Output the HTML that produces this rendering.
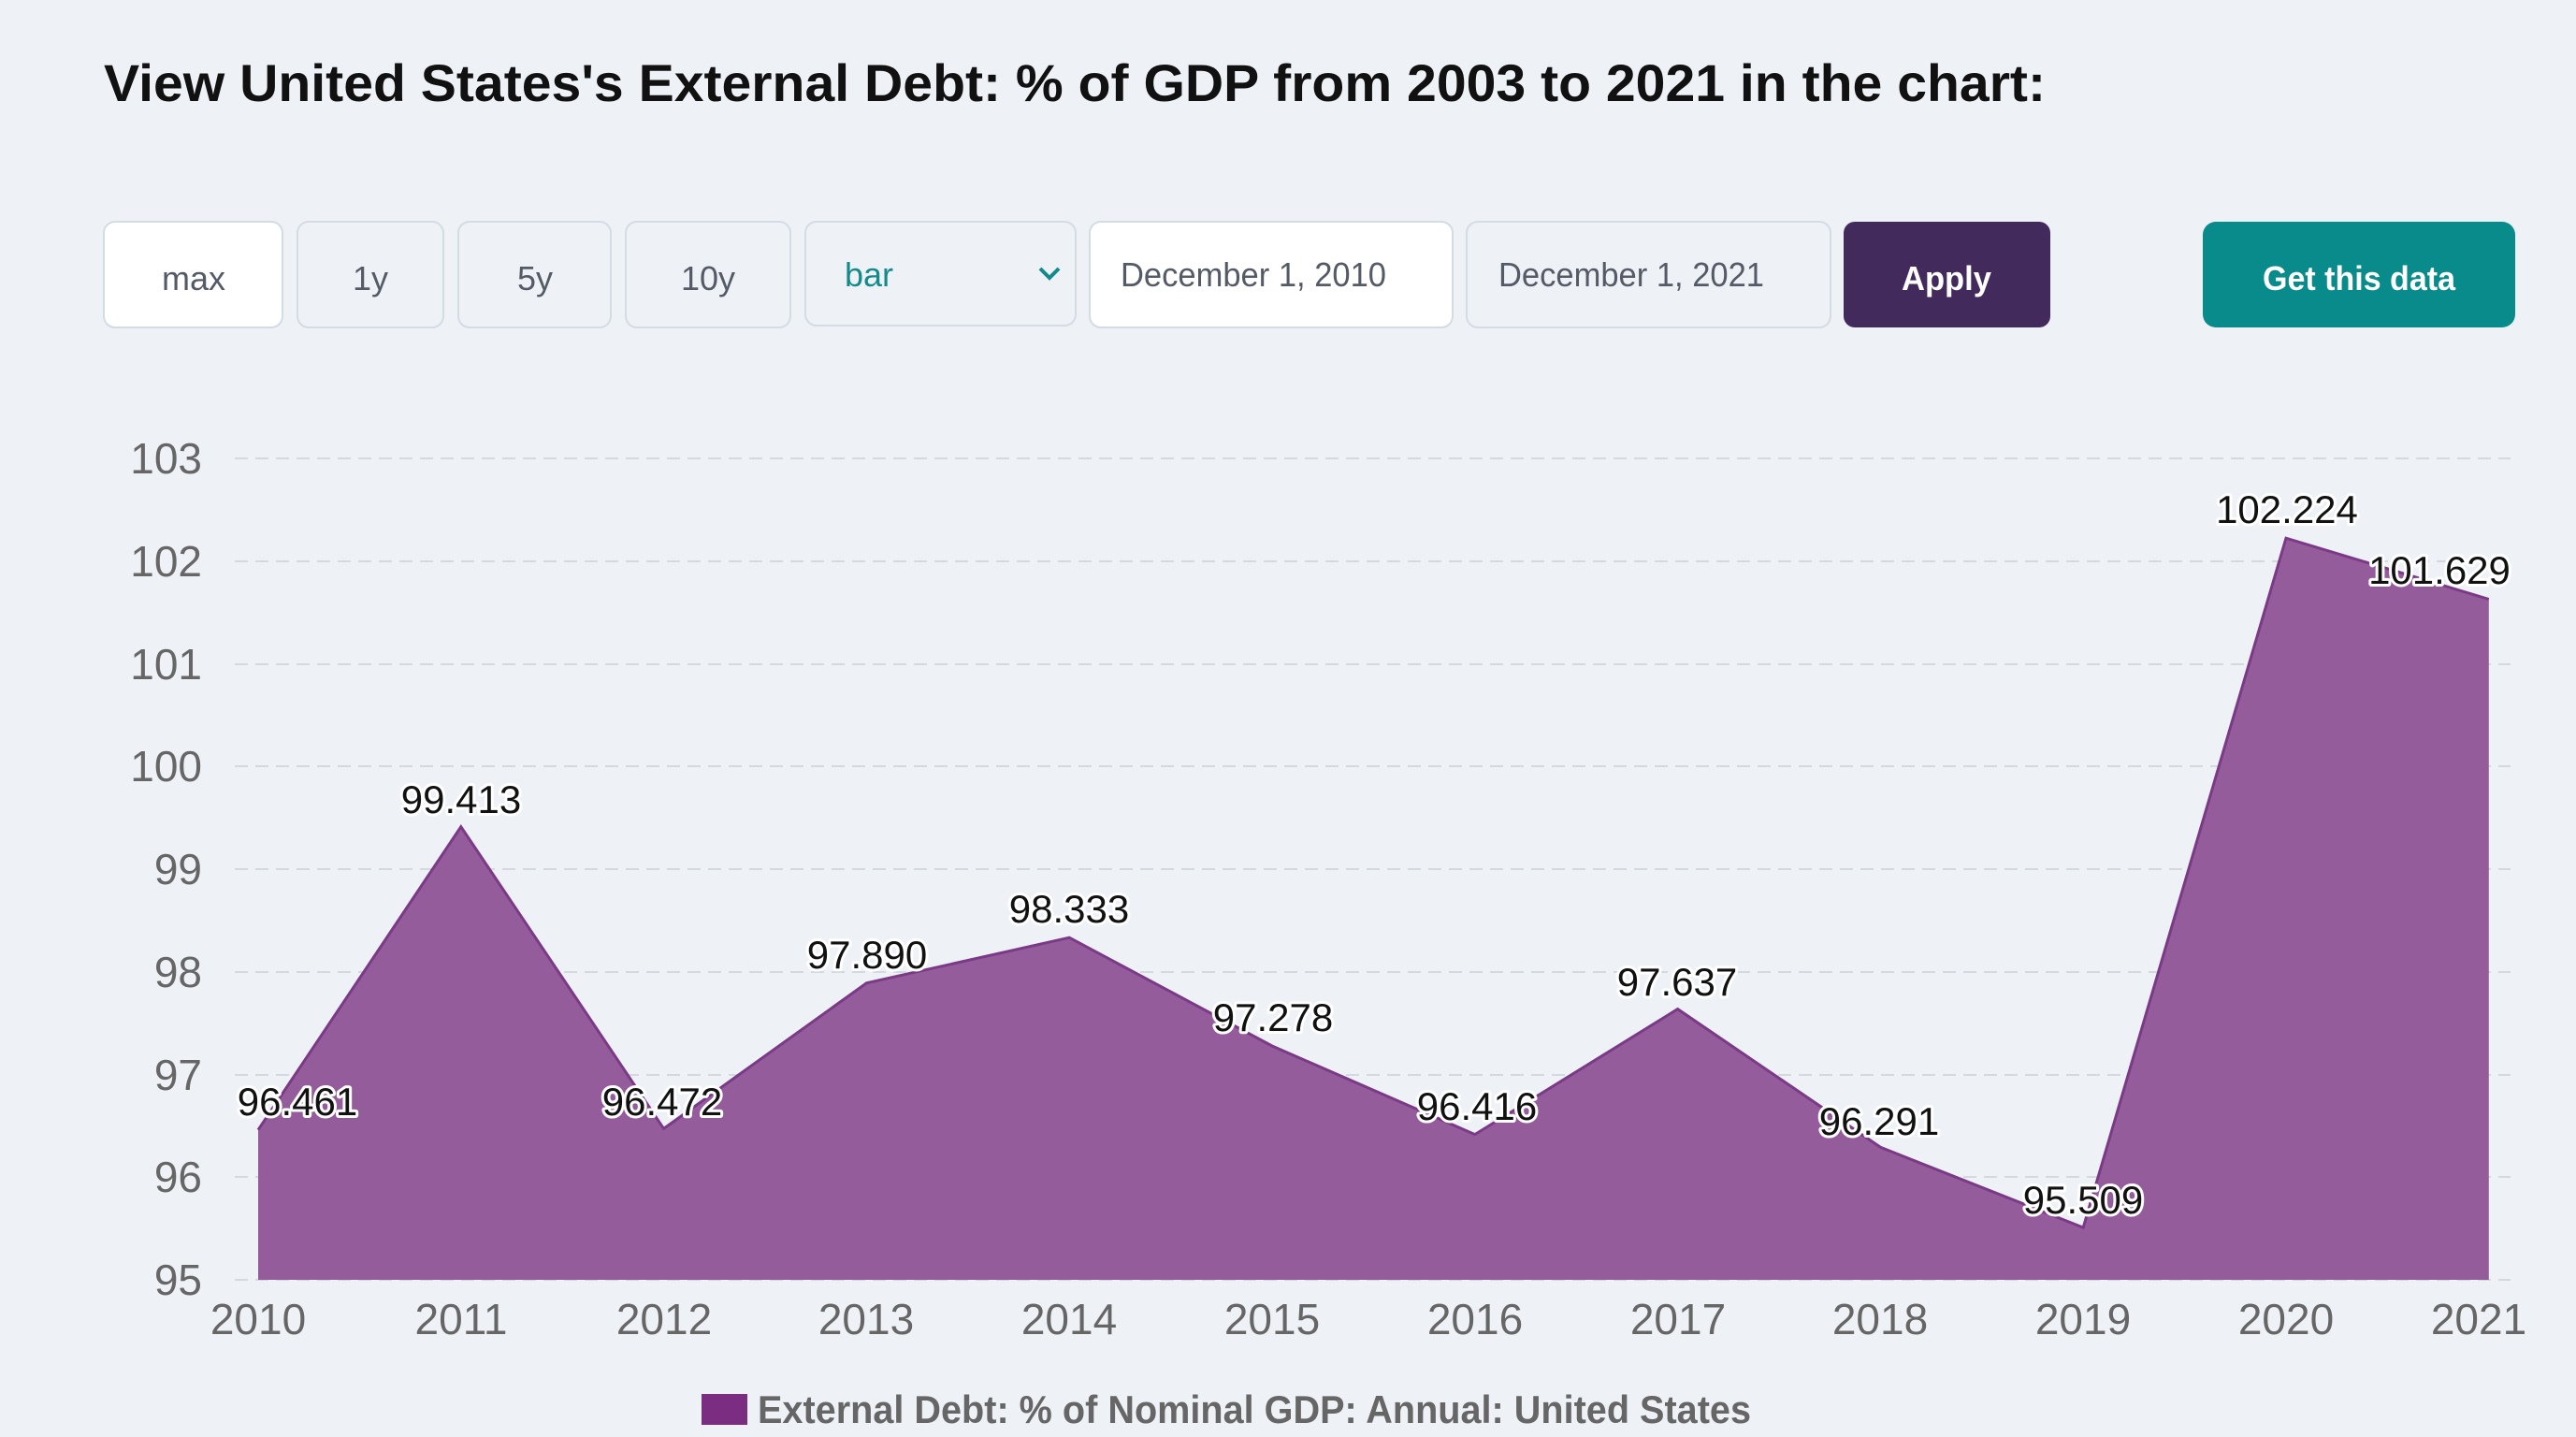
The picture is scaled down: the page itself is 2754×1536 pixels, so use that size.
<!DOCTYPE html>
<html><head><meta charset="utf-8"><style>
html,body{margin:0;padding:0;background:#eef2f7;}
svg{display:block;font-family:"Liberation Sans",sans-serif;}
</style></head><body>
<svg width="2754" height="1536" viewBox="0 0 2754 1536" xmlns="http://www.w3.org/2000/svg">
<rect width="2754" height="1536" fill="#eef2f7"/>
<text x="111" y="108" font-size="56" font-weight="bold" fill="#111" textLength="2076" lengthAdjust="spacingAndGlyphs">View United States's External Debt: % of GDP from 2003 to 2021 in the chart:</text>
<g font-size="36" text-anchor="middle" fill="#555b66">
<rect x="111" y="237" width="191" height="113" rx="12" fill="#fff" stroke="#d3dbe3" stroke-width="2"/>
<text x="207" y="310">max</text>
<rect x="318" y="237" width="156" height="113" rx="12" fill="#eef2f7" stroke="#d3dbe3" stroke-width="2"/>
<text x="396" y="310">1y</text>
<rect x="490" y="237" width="163" height="113" rx="12" fill="#eef2f7" stroke="#d3dbe3" stroke-width="2"/>
<text x="572" y="310">5y</text>
<rect x="669" y="237" width="176" height="113" rx="12" fill="#eef2f7" stroke="#d3dbe3" stroke-width="2"/>
<text x="757" y="310">10y</text>
<rect x="861" y="237" width="289" height="111" rx="12" fill="#eef2f7" stroke="#d3dbe3" stroke-width="2"/>
<text x="929" y="306" fill="#148a8a">bar</text>
<path d="M1112 287 l10 10 l10 -10" fill="none" stroke="#148a8a" stroke-width="4"/>
<rect x="1165" y="237" width="388" height="113" rx="12" fill="#fff" stroke="#d3dbe3" stroke-width="2"/>
<text x="1340" y="306" textLength="284" lengthAdjust="spacingAndGlyphs">December 1, 2010</text>
<rect x="1568" y="237" width="389" height="113" rx="12" fill="#eef2f7" stroke="#d3dbe3" stroke-width="2"/>
<text x="1744" y="306" textLength="284" lengthAdjust="spacingAndGlyphs">December 1, 2021</text>
<rect x="1971" y="237" width="221" height="113" rx="12" fill="#432a5c"/>
<text x="2081" y="310" fill="#fff" font-weight="bold" textLength="96" lengthAdjust="spacingAndGlyphs">Apply</text>
<rect x="2355" y="237" width="334" height="113" rx="14" fill="#088b8a"/>
<text x="2522" y="310" fill="#fff" font-weight="bold" textLength="206" lengthAdjust="spacingAndGlyphs">Get this data</text>
</g>
<g stroke="#d4d9df" stroke-width="2" stroke-dasharray="14,8">
<line x1="251" y1="490" x2="2684" y2="490"/>
<line x1="251" y1="600" x2="2684" y2="600"/>
<line x1="251" y1="710" x2="2684" y2="710"/>
<line x1="251" y1="819" x2="2684" y2="819"/>
<line x1="251" y1="929" x2="2684" y2="929"/>
<line x1="251" y1="1039" x2="2684" y2="1039"/>
<line x1="251" y1="1149" x2="2684" y2="1149"/>
<line x1="251" y1="1258" x2="2684" y2="1258"/>
<line x1="251" y1="1368" x2="2684" y2="1368"/>
</g>
<g font-size="46" fill="#666" text-anchor="end">
<text x="216" y="506">103</text><text x="216" y="616">102</text><text x="216" y="726">101</text>
<text x="216" y="835">100</text><text x="216" y="945">99</text><text x="216" y="1055">98</text>
<text x="216" y="1165">97</text><text x="216" y="1274">96</text><text x="216" y="1384">95</text>
</g>
<path d="M276 1368 L276 1207.7 L492.8 883.7 L709.6 1206.4 L926.4 1050.8 L1143.2 1002.2 L1360 1118 L1576.8 1212.6 L1793.6 1078.6 L2010.4 1226.3 L2227.2 1312.1 L2444 575.2 L2660.8 640.5 L2660.8 1368 Z" fill="#955c9c"/>
<path d="M276 1207.7 L492.8 883.7 L709.6 1206.4 L926.4 1050.8 L1143.2 1002.2 L1360 1118 L1576.8 1212.6 L1793.6 1078.6 L2010.4 1226.3 L2227.2 1312.1 L2444 575.2 L2660.8 640.5" fill="none" stroke="#7b3a85" stroke-width="3"/>
<g font-size="46" fill="#666" text-anchor="middle">
<text x="276" y="1426">2010</text><text x="493" y="1426">2011</text><text x="710" y="1426">2012</text>
<text x="926" y="1426">2013</text><text x="1143" y="1426">2014</text><text x="1360" y="1426">2015</text>
<text x="1577" y="1426">2016</text><text x="1794" y="1426">2017</text><text x="2010" y="1426">2018</text>
<text x="2227" y="1426">2019</text><text x="2444" y="1426">2020</text><text x="2650" y="1426">2021</text>
</g>
<g font-size="42" fill="#111" text-anchor="middle" stroke="#fff" stroke-width="6" paint-order="stroke" stroke-linejoin="round">
<text x="318" y="1192">96.461</text>
<text x="493" y="869">99.413</text>
<text x="708" y="1192">96.472</text>
<text x="927" y="1035">97.890</text>
<text x="1143" y="986">98.333</text>
<text x="1361" y="1102">97.278</text>
<text x="1579" y="1197">96.416</text>
<text x="1793" y="1064">97.637</text>
<text x="2009" y="1213">96.291</text>
<text x="2227" y="1297">95.509</text>
<text x="2445" y="559">102.224</text>
<text x="2608" y="624">101.629</text>
</g>
<rect x="750" y="1490" width="49" height="33" fill="#7b2d82"/>
<text x="810" y="1521" font-size="42" fill="#666" font-weight="bold" textLength="1062" lengthAdjust="spacingAndGlyphs">External Debt: % of Nominal GDP: Annual: United States</text>
</svg>
</body></html>
